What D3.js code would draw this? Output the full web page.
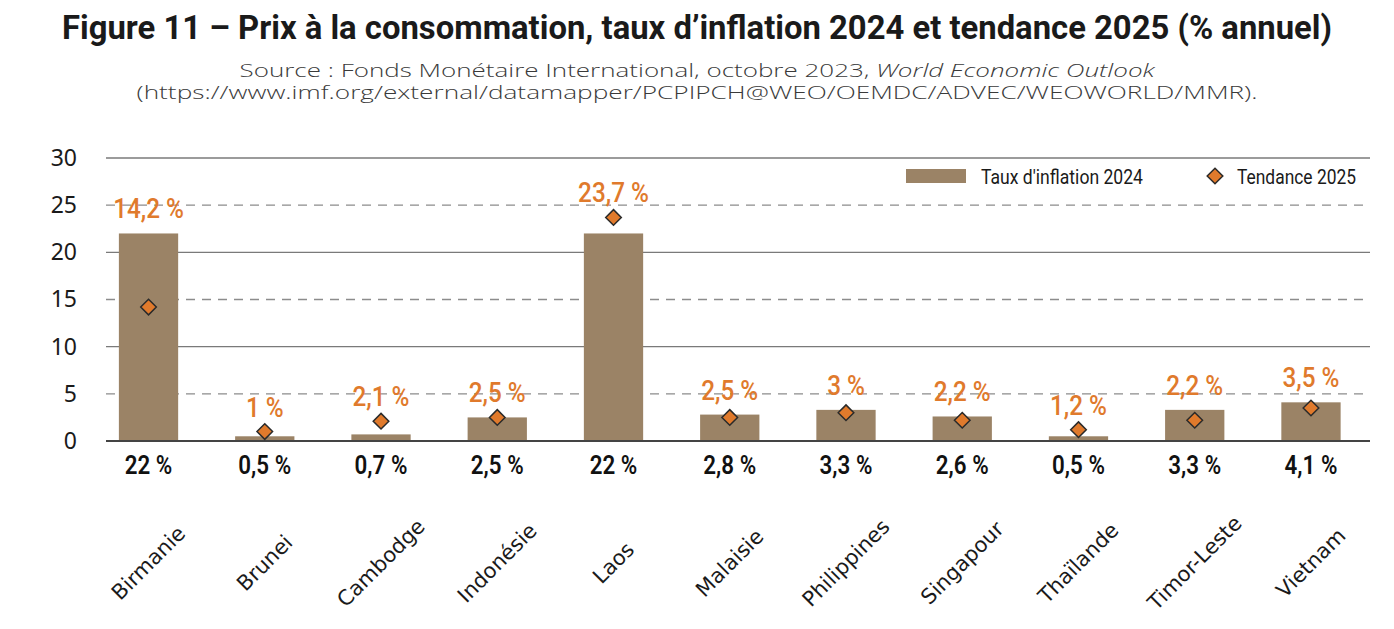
<!DOCTYPE html>
<html>
<head>
<meta charset="utf-8">
<script src="https://cdn.jsdelivr.net/npm/d3@7"></script>
<style>
  body { margin: 0; background: #fff; }
  svg { display: block; }
</style>
</head>
<body>
<svg id="chart" width="1394" height="629"></svg>
<script>
// chart data
const countries = ["Birmanie", "Brunei", "Cambodge", "Indonésie", "Laos", "Malaisie",
  "Philippines", "Singapour", "Thaïlande", "Timor-Leste", "Vietnam"];
const inflation2024 = [22, 0.5, 0.7, 2.5, 22, 2.8, 3.3, 2.6, 0.5, 3.3, 4.1];
const trend2025 = [14.2, 1, 2.1, 2.5, 23.7, 2.5, 3, 2.2, 1.2, 2.2, 3.5];
const yTicks = [0, 5, 10, 15, 20, 25, 30];
const legendLabels = ["Taux d'inflation 2024", "Tendance 2025"];

const narrow = "'Roboto', 'Liberation Sans', sans-serif";
const barColor = "#9b8366";
const orange = "#e07a2c";
const squeeze = 0.9; // fake a condensed face

const svg = d3.select("#chart");

// title + source
svg.append("text")
  .attr("x", 697).attr("y", 39)
  .attr("text-anchor", "middle")
  .attr("textLength", 1270).attr("lengthAdjust", "spacingAndGlyphs")
  .style("font-family", narrow).style("font-weight", "bold").style("font-size", "33px")
  .style("fill", "#1a1a1a")
  .text("Figure 11 – Prix à la consommation, taux d’inflation 2024 et tendance 2025 (% annuel)");

const src = svg.append("text")
  .attr("x", 697).attr("y", 77)
  .attr("text-anchor", "middle")
  .attr("textLength", 915).attr("lengthAdjust", "spacingAndGlyphs")
  .style("font-family", "'Open Sans', sans-serif").style("font-weight", 300)
  .style("font-size", "18px").style("fill", "#3a3a3a");
src.append("tspan").text("Source : Fonds Monétaire International, octobre 2023, ");
src.append("tspan").style("font-style", "italic").text("World Economic Outlook");

svg.append("text")
  .attr("x", 697).attr("y", 99)
  .attr("text-anchor", "middle")
  .attr("textLength", 1121).attr("lengthAdjust", "spacingAndGlyphs")
  .style("font-family", "'Open Sans', sans-serif").style("font-weight", 300)
  .style("font-size", "18px").style("fill", "#3a3a3a")
  .text("(https://www.imf.org/external/datamapper/PCPIPCH@WEO/OEMDC/ADVEC/WEOWORLD/MMR).");

// scales
const x = d3.scaleBand()
  .domain(countries)
  .range([90.4, 1369.1])
  .paddingInner(0.49)
  .paddingOuter(0.245);

const y = d3.scaleLinear().domain([0, 30]).range([441, 158]);

// grid lines
svg.append("g")
  .selectAll("line")
  .data(yTicks.filter(d => d > 0))
  .join("line")
  .attr("x1", 106).attr("x2", 1370)
  .attr("y1", d => y(d)).attr("y2", d => y(d))
  .attr("stroke", d => d % 10 === 0 ? "#7a7a7a" : "#8c8c8c")
  .attr("stroke-width", 1.3)
  .attr("stroke-dasharray", d => d % 10 === 0 ? null : "9,7");

// y axis labels
const yAxis = d3.axisLeft(y).tickValues(yTicks).tickSize(0).tickPadding(0);
svg.append("g")
  .attr("transform", "translate(77,0)")
  .call(yAxis)
  .call(g => g.select(".domain").remove())
  .selectAll("text")
  .style("font-family", "'Source Sans Pro', 'Noto Sans', sans-serif")
  .style("font-size", "23px")
  .style("fill", "#1a1a1a");

// bars
svg.append("g")
  .selectAll("rect")
  .data(countries)
  .join("rect")
  .attr("x", d => x(d))
  .attr("width", x.bandwidth())
  .attr("y", (d, i) => y(inflation2024[i]))
  .attr("height", (d, i) => y(0) - y(inflation2024[i]))
  .attr("fill", barColor);

// x axis line
svg.append("line")
  .attr("x1", 106).attr("x2", 1370)
  .attr("y1", y(0)).attr("y2", y(0))
  .attr("stroke", "#444").attr("stroke-width", 2);

const fmt = v => String(v).replace(".", ",") + " %";
const cx = d => x(d) + x.bandwidth() / 2;

// diamonds
const diamond = d3.symbol().type(d3.symbolDiamond2).size(155);
svg.append("g")
  .selectAll("path")
  .data(countries)
  .join("path")
  .attr("d", diamond)
  .attr("transform", (d, i) => `translate(${cx(d)},${y(trend2025[i])})`)
  .attr("fill", orange)
  .attr("stroke", "#2a2a2a")
  .attr("stroke-width", 1.5);

// trend labels, sitting above whichever is higher: bar or diamond
svg.append("g")
  .selectAll("text")
  .data(countries)
  .join("text")
  .attr("transform", (d, i) =>
    `translate(${cx(d)},${y(Math.max(inflation2024[i], trend2025[i])) - 15}) scale(${squeeze},1)`)
  .attr("text-anchor", "middle")
  .style("font-family", narrow).style("font-size", "27px").style("font-weight", 500)
  .style("fill", orange)
  .text((d, i) => fmt(trend2025[i]));

// value labels below axis
svg.append("g")
  .selectAll("text")
  .data(countries)
  .join("text")
  .attr("transform", d => `translate(${cx(d)},474) scale(0.86,1)`)
  .attr("text-anchor", "middle")
  .style("font-family", narrow).style("font-size", "26px").style("font-weight", 600)
  .style("fill", "#111")
  .text((d, i) => fmt(inflation2024[i]));

// rotated category labels, centred under each bar
svg.append("g")
  .selectAll("text")
  .data(countries)
  .join("text")
  .attr("text-anchor", "middle")
  .attr("transform", d => `translate(${cx(d) + 5},${568}) rotate(-45)`)
  .style("font-family", "'DejaVu Sans', sans-serif").style("font-size", "21px")
  .style("fill", "#1a1a1a")
  .text(d => d);

// legend
const leg = svg.append("g");
leg.append("rect")
  .attr("x", 906).attr("y", 169).attr("width", 60).attr("height", 14)
  .attr("fill", barColor);
leg.append("text")
  .attr("x", 981).attr("y", 184)
  .attr("textLength", 162).attr("lengthAdjust", "spacingAndGlyphs")
  .style("font-family", narrow).style("font-size", "21px").style("fill", "#1a1a1a")
  .text(legendLabels[0]);
leg.append("path")
  .attr("d", diamond)
  .attr("transform", "translate(1215,176)")
  .attr("fill", orange).attr("stroke", "#2a2a2a").attr("stroke-width", 1.5);
leg.append("text")
  .attr("x", 1237).attr("y", 184)
  .attr("textLength", 119).attr("lengthAdjust", "spacingAndGlyphs")
  .style("font-family", narrow).style("font-size", "21px").style("fill", "#1a1a1a")
  .text(legendLabels[1]);
</script>
</body>
</html>
